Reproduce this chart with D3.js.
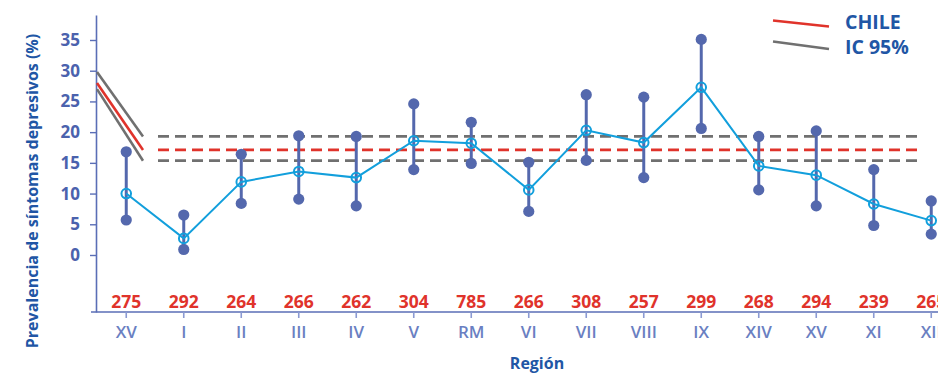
<!DOCTYPE html>
<html>
<head>
<meta charset="utf-8">
<script src="https://cdn.jsdelivr.net/npm/d3@7"></script>
<style>
  html, body { margin: 0; padding: 0; background: #fff; }
  svg { display: block; font-family: "Open Sans", "Noto Sans", sans-serif; }
</style>
</head>
<body>
<svg id="chart" width="938" height="373"></svg>
<script>
// Regions (north to south order used in the survey report)
const regions = ["XV", "I", "II", "III", "IV", "V", "RM", "VI", "VII", "VIII", "IX", "XIV", "XV", "XI", "XII"];
// Prevalence estimate (%) and 95% CI bounds per region
const prevalence = [10.0, 2.7, 11.9, 13.6, 12.6, 18.6, 18.2, 10.6, 20.3, 18.3, 27.3, 14.5, 13.0, 8.3, 5.6];
const ciLower    = [5.7, 0.9, 8.4, 9.1, 8.0, 13.9, 14.9, 7.1, 15.4, 12.6, 20.6, 10.6, 8.0, 4.8, 3.4];
const ciUpper    = [16.8, 6.5, 16.4, 19.4, 19.3, 24.6, 21.6, 15.1, 26.1, 25.7, 35.1, 19.3, 20.2, 13.9, 8.8];
// Sample size per region
const sampleSize = ["275", "292", "264", "266", "262", "304", "785", "266", "308", "257", "299", "268", "294", "239", "265"];
// National reference: estimate and CI
const chileValue = 17.1;
const chileLower = 15.35;
const chileUpper = 19.3;
// Values where the slanted national lines enter from the axis
const chileEntry = 28.0;
const chileLowerEntry = 27.0;
const chileUpperEntry = 29.8;
const yTicks = [0, 5, 10, 15, 20, 25, 30, 35];

const svg = d3.select("#chart");
const axisColor = "#5a6eb6";
const tickText = "#4b62ad";
const catText = "#6a7fc2";
const titleBlue = "#2156a5";
const red = "#e0332b";
const grey = "#707070";
const barColor = "#5468ad";
const cyan = "#129fdc";

const x = d3.scaleBand().domain(d3.range(regions.length)).range([97.5, 97.5 + 57.5 * regions.length]).padding(0);
const y = d3.scaleLinear().domain([-9.28, 39.07]).range([312, 15]);
const cx = i => x(i) + x.bandwidth() / 2;

// Y axis
const yAxis = svg.append("g")
  .attr("transform", "translate(96,0)")
  .call(d3.axisLeft(y).tickValues(yTicks).tickSize(6).tickPadding(10).tickSizeOuter(0));
yAxis.select(".domain").attr("stroke", axisColor).attr("stroke-width", 1.6);
yAxis.selectAll(".tick line").attr("stroke", axisColor).attr("stroke-width", 1.4);
yAxis.selectAll(".tick text")
  .attr("fill", tickText).attr("font-size", 17).attr("font-weight", 700)
  .attr("font-family", "'Open Sans', sans-serif");

// X axis
const xAxis = svg.append("g")
  .attr("transform", "translate(0,312)")
  .call(d3.axisBottom(x).tickFormat(i => regions[i]).tickSize(6).tickPadding(8).tickSizeOuter(0));
xAxis.select(".domain").attr("stroke", axisColor).attr("stroke-width", 1.6)
  .attr("d", "M91,0H" + (97.5 + 57.5 * regions.length));
xAxis.selectAll(".tick line").attr("stroke", "#8a9ad2").attr("stroke-width", 1.6);
xAxis.selectAll(".tick text")
  .attr("fill", catText).attr("font-size", 17).attr("font-weight", 600)
  .attr("font-family", "'Open Sans', sans-serif");

// Sample sizes
svg.append("g").selectAll("text").data(sampleSize).join("text")
  .attr("x", (d, i) => cx(i))
  .attr("y", 308)
  .attr("text-anchor", "middle")
  .attr("fill", red).attr("font-size", 17.5).attr("font-weight", 700)
  .text(d => d);

// National reference: slanted entry segments
const slantX0 = 97, slantX1 = 143;
const slants = [
  { from: chileUpperEntry, to: chileUpper, color: grey },
  { from: chileLowerEntry, to: chileLower, color: grey },
  { from: chileEntry, to: chileValue, color: red }
];
svg.append("g").selectAll("line").data(slants).join("line")
  .attr("x1", slantX0).attr("y1", d => y(d.from))
  .attr("x2", slantX1).attr("y2", d => y(d.to))
  .attr("stroke", d => d.color).attr("stroke-width", 2.6);

// National reference: dashed horizontal lines
const dashX0 = 158, dashX1 = 923;
const refs = [
  { v: chileUpper, color: grey },
  { v: chileLower, color: grey },
  { v: chileValue, color: red }
];
svg.append("g").selectAll("line").data(refs).join("line")
  .attr("x1", dashX0).attr("x2", dashX1)
  .attr("y1", d => y(d.v)).attr("y2", d => y(d.v))
  .attr("stroke", d => d.color).attr("stroke-width", 2.8)
  .attr("stroke-dasharray", "11,6");

// Confidence intervals
const ci = svg.append("g");
ci.selectAll("line").data(regions).join("line")
  .attr("x1", (d, i) => cx(i)).attr("x2", (d, i) => cx(i))
  .attr("y1", (d, i) => y(ciLower[i])).attr("y2", (d, i) => y(ciUpper[i]))
  .attr("stroke", barColor).attr("stroke-width", 3);
ci.selectAll("circle.lo").data(ciLower).join("circle").attr("class", "lo")
  .attr("cx", (d, i) => cx(i)).attr("cy", d => y(d)).attr("r", 5.6).attr("fill", barColor);
ci.selectAll("circle.hi").data(ciUpper).join("circle").attr("class", "hi")
  .attr("cx", (d, i) => cx(i)).attr("cy", d => y(d)).attr("r", 5.6).attr("fill", barColor);

// Prevalence line and markers
svg.append("path")
  .datum(prevalence)
  .attr("fill", "none").attr("stroke", cyan).attr("stroke-width", 2)
  .attr("d", d3.line().x((d, i) => cx(i)).y(d => y(d)));
svg.append("g").selectAll("circle").data(prevalence).join("circle")
  .attr("cx", (d, i) => cx(i)).attr("cy", d => y(d)).attr("r", 4.8)
  .attr("fill", "none").attr("stroke", cyan).attr("stroke-width", 2);

// Legend
const legend = svg.append("g");
legend.append("line").attr("x1", 773).attr("y1", 20.5).attr("x2", 829).attr("y2", 26.5)
  .attr("stroke", red).attr("stroke-width", 2.6);
legend.append("line").attr("x1", 773).attr("y1", 41.5).attr("x2", 829).attr("y2", 49)
  .attr("stroke", grey).attr("stroke-width", 2.6);
legend.append("text").attr("x", 845).attr("y", 29).attr("fill", titleBlue)
  .attr("font-size", 19.5).attr("font-weight", 700).text("CHILE");
legend.append("text").attr("x", 845).attr("y", 53.5).attr("fill", titleBlue)
  .attr("font-size", 19.5).attr("font-weight", 700).text("IC 95%");

// Axis titles
svg.append("text")
  .attr("transform", "translate(38,191) rotate(-90)")
  .attr("text-anchor", "middle")
  .attr("fill", titleBlue).attr("font-size", 16).attr("font-weight", 700)
  .text("Prevalencia de síntomas depresivos (%)");
svg.append("text")
  .attr("x", 537).attr("y", 369)
  .attr("text-anchor", "middle")
  .attr("fill", titleBlue).attr("font-size", 16).attr("font-weight", 700)
  .text("Región");
</script>
</body>
</html>
